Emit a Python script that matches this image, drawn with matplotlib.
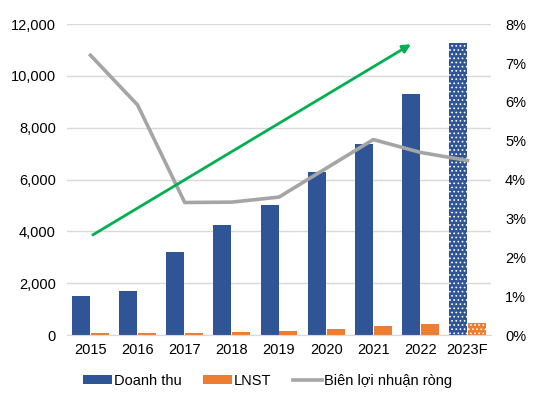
import numpy as np
import matplotlib.pyplot as plt

plt.rcParams['font.family'] = ['Liberation Sans', 'DejaVu Sans']
plt.rcParams['hatch.linewidth'] = 0.7

# data
nam = ['2015', '2016', '2017', '2018', '2019', '2020', '2021', '2022', '2023F']
doanh_thu = [1500, 1690, 3190, 4230, 5000, 6310, 7390, 9310, 11260]
lnst = [80, 80, 80, 130, 165, 230, 350, 420, 460]
bien_ln = [7.2, 5.92, 3.41, 3.42, 3.55, 4.29, 5.03, 4.70, 4.49]
mui_ten = [2.54, 7.52]  # xu huong (truc phai, %)

blue = '#2F5597'
orange = '#ED7D31'
grey = '#A5A5A5'
green = '#00B050'

x = np.arange(len(nam))
w = 0.38

fig = plt.figure(figsize=(5.35, 3.96), dpi=100)
ax = fig.add_axes([0.125, 0.154, 0.793, 0.785])
ax2 = ax.twinx()

b1 = ax.bar(x[:-1] - w/2 - 0.01, doanh_thu[:-1], w, color=blue, label='Doanh thu', zorder=2)
ax.bar(x[-1] - w/2 - 0.01, doanh_thu[-1], w, color=blue, edgecolor='white', hatch='....', linewidth=0, zorder=2)
b2 = ax.bar(x[:-1] + w/2 + 0.01, lnst[:-1], w, color=orange, label='LNST', zorder=2)
ax.bar(x[-1] + w/2 + 0.01, lnst[-1], w, color=orange, edgecolor='white', hatch='....', linewidth=0, zorder=2)

l1, = ax2.plot(x, bien_ln, color=grey, lw=2.6, label='Biên lợi nhuận ròng')
ax2.annotate('', xy=(x[7] - 0.15, mui_ten[1]), xytext=(x[0], mui_ten[0]),
             arrowprops=dict(arrowstyle='-|>', color=green, lw=2, mutation_scale=12))

ax.set_ylim(0, 12000)
ax.set_yticks(np.arange(0, 12001, 2000))
ax.set_yticklabels([f'{v:,}' for v in range(0, 12001, 2000)])
ax2.set_ylim(0, 8)
ax2.set_yticks(range(0, 9))
ax2.set_yticklabels([f'{v}%' for v in range(0, 9)])
ax.set_xlim(-0.5, len(nam) - 0.5)
ax.set_xticks(x)
ax.set_xticklabels(nam)

ax.grid(axis='y', color='#D9D9D9', lw=1, zorder=0)
ax.set_axisbelow(True)
for a in (ax, ax2):
    for s in a.spines.values():
        s.set_visible(False)
    a.tick_params(length=0, labelsize=10.5, colors='#000000')
ax.spines['bottom'].set_visible(True)
ax.spines['bottom'].set_color('#D9D9D9')
ax.tick_params(axis='y', pad=8)
ax.tick_params(axis='x', pad=6)
ax2.tick_params(axis='y', pad=10)

fig.legend(handles=[b1, b2, l1], loc='lower center', bbox_to_anchor=(0.5, -0.012), ncol=3,
           frameon=False, fontsize=10.5, handlelength=2.0, handleheight=0.6,
           handletextpad=0.1, columnspacing=1.5)

fig.savefig('out.png', dpi=100)
